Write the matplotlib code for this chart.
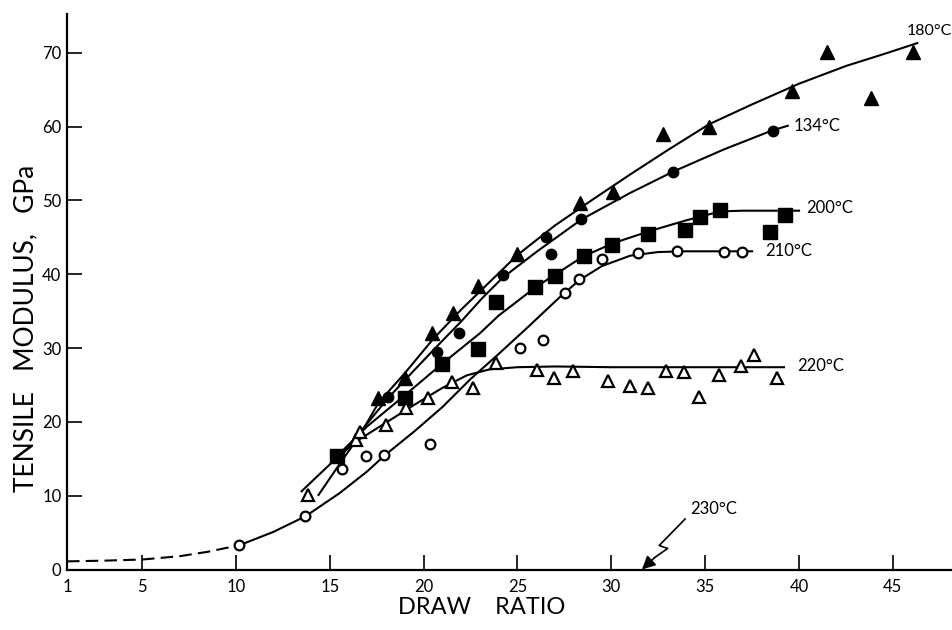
import numpy as np
import matplotlib
matplotlib.use("Agg")
import matplotlib.pyplot as plt

plt.rcParams['font.family'] = ['Lato', 'DejaVu Sans']

# measured points
s180_x = [17.57, 19.01, 20.45, 21.56, 22.9, 24.96, 28.33, 30.09, 32.75, 35.2, 39.63, 41.49, 43.83, 46.07]
s180_y = [23.2, 25.9, 32.0, 34.7, 38.4, 42.8, 49.6, 51.1, 59.0, 59.9, 64.8, 70.1, 63.9, 70.1]

s134_x = [18.1, 20.71, 21.88, 24.23, 26.52, 26.79, 28.38, 33.29, 38.61]
s134_y = [23.4, 29.5, 32.0, 39.9, 45.0, 42.7, 47.5, 53.8, 59.4]

s200_x = [15.38, 19.01, 20.98, 22.9, 23.86, 25.93, 27.0, 28.54, 30.04, 31.95, 33.92, 34.72, 35.79, 38.45, 39.25]
s200_y = [15.4, 23.2, 27.9, 29.9, 36.2, 38.2, 39.8, 42.5, 43.9, 45.4, 46.0, 47.7, 48.7, 45.7, 48.0]

s210_x = [10.16, 13.68, 15.65, 16.93, 17.89, 20.34, 25.13, 26.36, 27.53, 28.28, 29.5, 31.42, 33.5, 36.0, 36.96]
s210_y = [3.3, 7.2, 13.6, 15.4, 15.5, 17.0, 30.0, 31.1, 37.5, 39.4, 42.0, 42.9, 43.1, 43.0, 43.0]

s220_x = [13.84, 16.4, 16.61, 18.0, 19.06, 20.23, 21.51, 22.63, 23.86, 26.04, 26.95, 27.96, 29.82,
          31.0, 31.95, 32.91, 33.87, 34.67, 35.74, 36.91, 37.6, 38.83]
s220_y = [10.1, 17.5, 18.6, 19.6, 21.9, 23.2, 25.4, 24.6, 28.0, 27.0, 25.9, 26.9, 25.5,
          24.8, 24.6, 26.9, 26.7, 23.3, 26.3, 27.5, 29.0, 26.0]

# hand-drawn trend curves
c180_x = [14.4, 15.5, 16.6, 17.6, 19.0, 20.5, 22.0, 23.5, 25.0, 27.0, 29.0, 31.0, 33.0, 35.2, 37.5, 40.0, 42.5, 44.5, 46.3]
c180_y = [10.1, 14.2, 18.2, 22.6, 26.6, 31.2, 35.2, 38.9, 42.6, 46.6, 50.1, 53.5, 56.8, 60.3, 63.0, 65.8, 68.2, 69.8, 71.3]

c134_x = [15.8, 17.0, 18.1, 19.5, 20.7, 22.0, 23.1, 24.2, 26.0, 28.4, 31.0, 33.3, 36.0, 38.6, 39.4]
c134_y = [16.0, 19.8, 23.2, 27.0, 30.2, 33.6, 36.7, 39.5, 43.0, 47.4, 51.0, 53.9, 56.9, 59.5, 60.1]

c200_x = [15.4, 17.0, 19.0, 21.0, 23.0, 24.0, 26.0, 27.1, 28.5, 30.1, 32.0, 34.0, 35.8, 37.0, 40.0]
c200_y = [15.4, 19.4, 23.6, 27.9, 32.0, 34.4, 38.3, 40.1, 42.4, 44.2, 45.8, 47.3, 48.5, 48.6, 48.6]

c210d_x = [1.0, 3.0, 5.0, 7.0, 8.5, 10.2]
c210d_y = [1.1, 1.2, 1.35, 1.8, 2.4, 3.3]

c210_x = [10.2, 12.0, 13.7, 15.5, 17.0, 17.9, 19.5, 21.0, 22.5, 24.0, 25.5, 27.3, 28.3, 29.5, 31.0, 32.5, 34.0, 37.5]
c210_y = [3.3, 5.1, 7.2, 10.3, 13.3, 15.4, 18.7, 22.0, 25.8, 29.2, 32.7, 37.0, 39.2, 41.1, 42.5, 43.0, 43.1, 43.1]

c220_x = [13.5, 15.4, 16.5, 18.0, 19.5, 21.0, 22.3, 23.5, 25.0, 27.0, 30.0, 35.0, 39.2]
c220_y = [10.6, 15.2, 17.5, 19.9, 22.3, 24.6, 26.3, 27.1, 27.4, 27.5, 27.4, 27.4, 27.4]

# zig-zag arrow for the 230 C run
arrow_x = [33.93, 32.55, 33.0, 32.3]
arrow_y = [6.84, 3.25, 2.85, 1.6]
arrow_tip = (31.63, 0.0)

xticks = [1, 5, 10, 15, 20, 25, 30, 35, 40, 45]
yticks = [0, 10, 20, 30, 40, 50, 60, 70]

fig = plt.figure(figsize=(9.53, 6.30), dpi=100)
ax = fig.add_axes([67 / 953, 60.5 / 630, 886 / 953, 555.5 / 630])

lw = 1.5
ax.plot(c180_x, c180_y, color='k', lw=lw)
ax.plot(c134_x, c134_y, color='k', lw=lw)
ax.plot(c200_x, c200_y, color='k', lw=lw)
ax.plot(c210_x, c210_y, color='k', lw=lw)
ax.plot(c210d_x, c210d_y, color='k', lw=lw, ls=(0, (6, 3)))
ax.plot(c220_x, c220_y, color='k', lw=lw)

ax.plot(s180_x, s180_y, ls='none', marker='^', ms=10, color='k')
ax.plot(s134_x, s134_y, ls='none', marker='o', ms=7.5, color='k')
ax.plot(s200_x, s200_y, ls='none', marker='s', ms=9.5, color='k')
ax.plot(s210_x, s210_y, ls='none', marker='o', ms=7, mfc='white', mec='k', mew=1.6)
ax.plot(s220_x, s220_y, ls='none', marker='^', ms=9, mfc='white', mec='k', mew=1.6)

ax.plot(arrow_x, arrow_y, color='k', lw=1.2)
ax.annotate('', xy=arrow_tip, xytext=(arrow_x[-1], arrow_y[-1]),
            arrowprops=dict(arrowstyle='-|>', color='k', lw=1.2, mutation_scale=20,
                            shrinkA=0, shrinkB=0))

fs = 12
ax.text(45.75, 73.0, '180°C', fontsize=11.5, va='center', ha='left')
ax.text(39.7, 60.1, '134°C', fontsize=fs, va='center', ha='left')
ax.text(40.4, 49.0, '200°C', fontsize=fs, va='center', ha='left')
ax.text(38.2, 43.2, '210°C', fontsize=fs, va='center', ha='left')
ax.text(39.9, 27.5, '220°C', fontsize=fs, va='center', ha='left')
ax.text(34.2, 8.2, '230°C', fontsize=fs, va='center', ha='left')

ax.set_xlim(1, 1 + 886 / 18.77)
ax.set_ylim(0, 555.5 / 7.383)
ax.set_xticks(xticks)
ax.set_yticks(yticks)
ax.set_xticklabels([str(t) for t in xticks])
ax.set_yticklabels([str(t) for t in yticks])
ax.tick_params(direction='in', length=11, width=1.2, labelsize=12)
ax.tick_params(axis='x', pad=7)
ax.tick_params(axis='y', pad=4)

ax.spines['top'].set_visible(False)
ax.spines['right'].set_visible(False)
ax.spines['left'].set_linewidth(1.6)
ax.spines['bottom'].set_linewidth(1.6)

fig.text(482 / 953, 1 - 607 / 630, 'DRAW    RATIO', fontsize=17, ha='center', va='center')
fig.text(26 / 953, 1 - 328 / 630, 'TENSILE   MODULUS,   GPa', fontsize=19,
         rotation=90, ha='center', va='center')

fig.savefig('out.png', dpi=100)
